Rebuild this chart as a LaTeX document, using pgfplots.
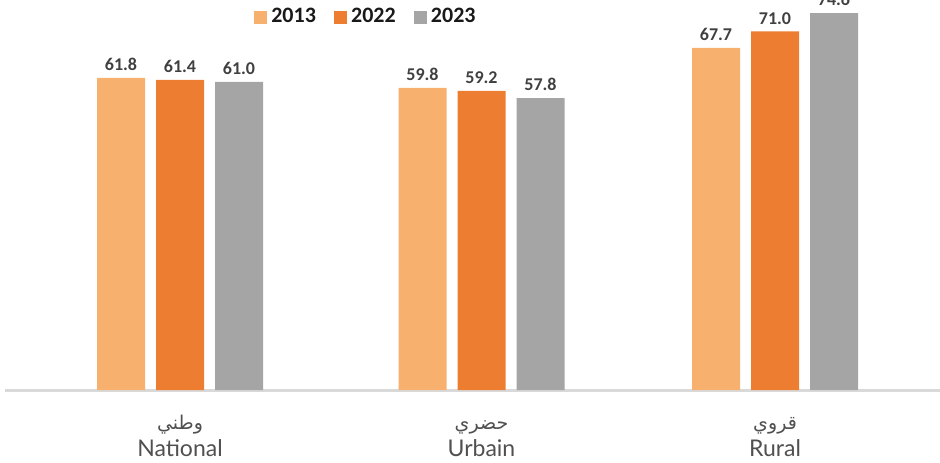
\documentclass[border=0pt]{standalone}
\usepackage{pgfplots}
\pgfplotsset{compat=1.18}
\usepackage{fontspec}
\setmainfont{Carlito}
\newfontfamily\labfont{Lato}
\newfontfamily\arabicfont[Script=Arabic]{DejaVu Sans}
\TeXXeTstate=1
\definecolor{c13}{HTML}{F8B06F}
\definecolor{c22}{HTML}{ED7D31}
\definecolor{c23}{HTML}{A5A5A5}
\definecolor{lab}{HTML}{404040}
\definecolor{cat}{HTML}{505050}
\definecolor{base}{HTML}{D9D9D9}
\newcommand\ar[1]{{\arabicfont\fontsize{9.5}{11}\selectfont\rule[-4pt]{0pt}{13pt}\beginR #1\endR}}
\begin{document}
\begin{tikzpicture}
\path[use as bounding box] (-2.5pt,-36pt) rectangle (467.5pt,195pt);
\clip (-2.5pt,-36pt) rectangle (467.5pt,195pt);
\begin{axis}[
    width=467.5pt, height=195pt, scale only axis,
    xmin=5, xmax=940, ymin=0, ymax=77.2,
    axis x line*=bottom, axis y line=none,
    x axis line style={base, line width=1.5pt, -},
    xtick={180,481.5,775}, major tick length=0pt,
    xticklabels={
      {\ar{وطني}\\National},
      {\ar{حضري}\\Urbain},
      {\ar{قروي}\\Rural}},
    xticklabel style={align=center, text=cat, font=\labfont\fontsize{11.5}{13.5}\selectfont, yshift=-7pt},
    ybar, bar width=48,
    clip=false,
    nodes near coords={\pgfmathprintnumber[fixed,fixed zerofill,precision=1,assume math mode=true]{\pgfplotspointmeta}},
    every node near coord/.append style={font=\bfseries\fontsize{9}{11}\selectfont, text=lab},
    legend style={draw=none, fill=none, at={(rel axis cs:0.387,0.956)}, anchor=center,
      font=\bfseries\fontsize{11}{13}\selectfont, text=black!90,
      /tikz/every even column/.append style={column sep=7pt}},
    legend columns=3,
    sq/.style={legend image code/.code={\fill[##1] (0pt,-3.3pt) rectangle (6.6pt,3.3pt);}},
]
\addplot[fill=c13, draw=none, bar shift=-59, sq] coordinates {(180,61.8) (481.5,59.8) (775,67.7)};
\addplot[fill=c22, draw=none, bar shift=0, sq] coordinates {(180,61.4) (481.5,59.2) (775,71.0)};
\addplot[fill=c23, draw=none, bar shift=59, sq] coordinates {(180,61.0) (481.5,57.8) (775,74.6)};
\legend{2013,2022,2023}
\end{axis}
\end{tikzpicture}
\end{document}
